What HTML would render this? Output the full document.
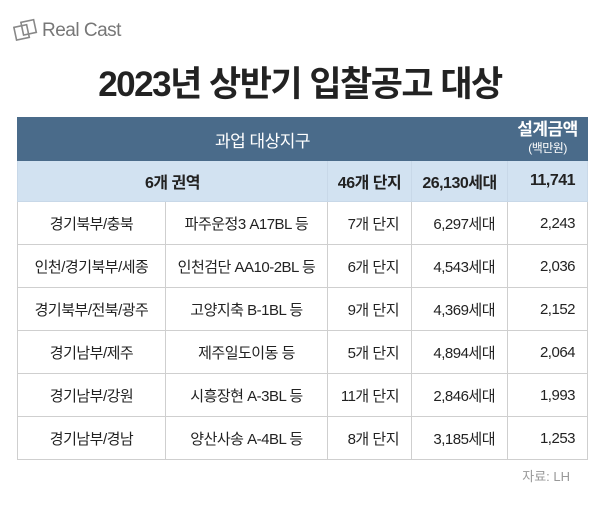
<!DOCTYPE html>
<html><head><meta charset="utf-8"><style>
body{margin:0;width:600px;height:507px;background:#fff;font-family:"Liberation Sans","Noto Sans CJK KR",sans-serif;position:relative;overflow:hidden}
.logo{position:absolute;left:13px;top:18px;display:flex;align-items:center}
.logo span{font-size:19px;color:#777;margin-left:3px;letter-spacing:-0.5px}
h1{position:absolute;top:56px;left:0;width:600px;text-align:center;margin:0;font-size:35px;font-weight:bold;color:#222;letter-spacing:-1.5px}
table{position:absolute;left:17px;top:117px;border-collapse:collapse;width:570px;table-layout:fixed;font-size:15px;color:#222;letter-spacing:-0.5px}
td{border:1px solid #cfcfcf;height:42px;padding:0;text-align:center;white-space:nowrap}
.h td{background:#4a6b8a;color:#fff;border-color:#4a6b8a;font-size:17px}
.h td.r{border-left:1px solid #8aa3bb;line-height:17px}
.s td{background:#d2e2f1;font-weight:bold;border-color:#c8d8e8;font-size:16px;height:40px}
.n{text-align:right;padding-right:12px}
.src{position:absolute;right:30px;top:466px;font-size:13px;color:#999}
</style></head><body>
<div class="logo"><svg width="26" height="26" viewBox="0 0 26 26"><rect x="2" y="8" width="13" height="13" fill="none" stroke="#888" stroke-width="1.6" transform="rotate(-12 8 14)"/><rect x="9" y="3" width="13" height="13" fill="none" stroke="#888" stroke-width="1.6" transform="rotate(-12 15 9)"/></svg><span>Real Cast</span></div>
<h1>2023년 상반기 입찰공고 대상</h1>
<table>
<colgroup><col style="width:148px"><col style="width:162px"><col style="width:84px"><col style="width:96px"><col style="width:80px"></colgroup>
<tr class="h"><td colspan="4">과업 대상지구</td><td class="r"><b>설계금액</b><br><span style="font-size:12px">(백만원)</span></td></tr>
<tr class="s"><td colspan="2">6개 권역</td><td>46개 단지</td><td>26,130세대</td><td class="n">11,741</td></tr>
<tr><td>경기북부/충북</td><td>파주운정3 A17BL 등</td><td class="n">7개 단지</td><td class="n">6,297세대</td><td class="n">2,243</td></tr>
<tr><td>인천/경기북부/세종</td><td>인천검단 AA10-2BL 등</td><td class="n">6개 단지</td><td class="n">4,543세대</td><td class="n">2,036</td></tr>
<tr><td>경기북부/전북/광주</td><td>고양지축 B-1BL 등</td><td class="n">9개 단지</td><td class="n">4,369세대</td><td class="n">2,152</td></tr>
<tr><td>경기남부/제주</td><td>제주일도이동 등</td><td class="n">5개 단지</td><td class="n">4,894세대</td><td class="n">2,064</td></tr>
<tr><td>경기남부/강원</td><td>시흥장현 A-3BL 등</td><td class="n">11개 단지</td><td class="n">2,846세대</td><td class="n">1,993</td></tr>
<tr><td>경기남부/경남</td><td>양산사송 A-4BL 등</td><td class="n">8개 단지</td><td class="n">3,185세대</td><td class="n">1,253</td></tr>
</table>
<div class="src">자료: LH</div>
</body></html>
